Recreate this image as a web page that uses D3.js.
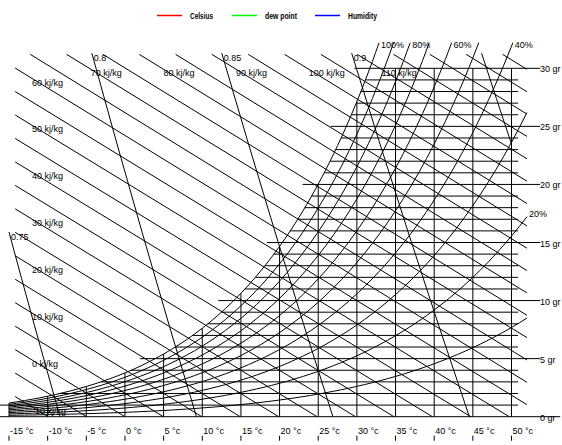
<!DOCTYPE html>
<html><head><meta charset="utf-8">
<script src="https://cdn.jsdelivr.net/npm/d3@7"></script>
<style>
body{margin:0;background:#fff}
svg{display:block}
text{font-family:"Liberation Sans",Arial,sans-serif;font-size:9px;fill:#000}
.leg{font-weight:bold;font-size:9px}
</style>
</head><body><svg id="c" width="562" height="445"></svg>
<script>
// ---------------- data ----------------
const temperatures = [-15,-10,-5,0,5,10,15,20,25,30,35,40,45,50];
const temperatureLabels = temperatures.map(t => t + " °c");
const humidityMajor = [0,5,10,15,20,25,30];
const humidityLabels = humidityMajor.map(w => w + " gr");
const humidityGrid = [1,2,3,4,5,6,7,8,9,10,11,12,13,14,15,16,17,18,19,20,21,22,23,24,25,26,27,28,29,30];
// saturation vapour pressure (kPa) read per degree C
const satTemps = [-15,-14,-13,-12,-11,-10,-9,-8,-7,-6,-5,-4,-3,-2,-1,0,1,2,3,4,5,6,7,8,9,10,11,12,13,14,15,16,17,18,19,20,21,22,23,24,25,26,27,28,29,30,31,32,33,34,35,36,37,38,39,40,41,42,43,44,45,46,47,48,49,50,51,52,53];
const satPressure = [0.1917,0.2080,0.2257,0.2446,0.2649,0.2868,0.3102,0.3353,0.3622,0.3910,0.4219,0.4549,0.4902,0.5278,0.5680,0.6109,0.6567,0.7055,0.7574,0.8127,0.8716,0.9342,1.0007,1.0713,1.1464,1.2260,1.3105,1.4001,1.4950,1.5956,1.7020,1.8147,1.9338,2.0598,2.1929,2.3334,2.4819,2.6385,2.8037,2.9780,3.1616,3.3551,3.5589,3.7734,3.9992,4.2366,4.4861,4.7483,5.0239,5.3133,5.6172,5.9363,6.2708,6.6216,6.9892,7.3744,7.7778,8.2004,8.6427,9.1056,9.5898,10.0962,10.6253,11.1786,11.7565,12.3600,12.9899,13.6475,14.3335];
const rhLevels = [100,90,80,70,60,50,40,30,20,10];
const rhLabelled = [100,80,60,40,20];
const enthalpyLevels = [-10,-5,0,5,10,15,20,25,30,35,40,45,50,55,60,65,70,75,80,85,90,95,100,105,110,115,120,125,130];
const enthalpyLabelled = [-10,0,10,20,30,40,50,60,70,80,90,100,110];
const volumeLevels = [0.75,0.8,0.85,0.9,0.95];
const volumeLabelled = [0.75,0.8,0.85,0.9];
const legendNames = ["Celsius","dew point","Humidity"];
const legendColors = ["#ff0000","#00ff00","#0000ff"];
const legendWidths = [23,32,29];

// ---------------- setup ----------------
const P = 101.325;
const svg = d3.select("#c");
const x = d3.scaleLinear().domain([-15, 50]).range([9, 511.5]);
const y = d3.scaleLinear().domain([0, 30]).range([416.7, 68.3]);
const line = d3.line().x(d => x(d[0])).y(d => y(d[1]));
const ratio = pv => 622 * pv / (P - pv);
const satW = satPressure.map(ratio);
function satAt(T){ const i = Math.max(0, Math.min(satTemps.length-2, Math.floor(T - satTemps[0])));
  const f = T - satTemps[i]; return satW[i] + f*(satW[i+1]-satW[i]); }
function tSat(w){ for (let i=0;i<satW.length-1;i++){ if (w <= satW[i+1]) { const f=(w-satW[i])/(satW[i+1]-satW[i]); return satTemps[i]+f; } } return satTemps[satTemps.length-1]; }

const g = svg.append("g").attr("fill","none").attr("stroke","#000").attr("stroke-width",1);

// horizontal humidity lines
g.append("line").attr("x1", x(-16.2)).attr("x2", x(56.3)).attr("y1", y(0)).attr("y2", y(0));
humidityGrid.forEach(w => {
  const major = humidityMajor.includes(w);
  const t1 = tSat(w) - (major ? 2 : 0);
  const t2 = major ? 53.7 : 50.85;
  g.append("line").attr("x1", Math.max(0, x(t1))).attr("x2", x(t2)).attr("y1", y(w)).attr("y2", y(w));
});

// vertical temperature lines
temperatures.forEach(t => {
  g.append("line").attr("x1", x(t)).attr("x2", x(t)).attr("y1", y(0)).attr("y2", y(Math.min(30, satAt(t))));
  g.append("line").attr("x1", x(t)).attr("x2", x(t)).attr("y1", y(0)+19).attr("y2", y(0)+24);
});

// RH curves
const rhTopW = 32.2, rhMaxT = 52;
const rhEnds = {};
rhLevels.forEach(rh => {
  const pts = [];
  let top = false;
  for (let i=0;i<satTemps.length;i++){
    const T = satTemps[i]; if (T > rhMaxT) break;
    const W = ratio(rh/100*satPressure[i]);
    if (W > rhTopW) { const [T0,W0] = pts[pts.length-1]; const f=(rhTopW-W0)/(W-W0); pts.push([T0+f*(T-T0), rhTopW]); top = true; break; }
    pts.push([T,W]);
  }
  rhEnds[rh] = {p: pts[pts.length-1], top};
  g.append("path").attr("d", line.curve(d3.curveMonotoneX)(pts));
});
line.curve(d3.curveLinear);

// enthalpy lines
const hT = (h,W) => (h - 2.501*W)/(1.006 + 0.00186*W);
const hW = (h,T) => (h - 1.006*T)/(2.501 + 0.00186*T);
const enthMinT = -14.2, enthMaxT = 52, enthTopW = 31.2;
const enthLines = {};
enthalpyLevels.forEach(h => {
  const Ws = Math.min(enthTopW, hW(h, enthMinT));
  const We = Math.max(0, hW(h, enthMaxT));
  if (Ws <= We) return;
  const pts = [[hT(h,Ws),Ws],[hT(h,We),We]];
  enthLines[h] = pts;
  g.append("path").attr("d", line(pts));
});

// specific volume lines
const vT = (v,W) => v*P/(0.287042*(1+0.0016078*W)) - 273.15;
const vW = (v,T) => (v*P/(0.287042*(T+273.15)) - 1)/0.0016078;
const volTopW = 31.3;
const volEnds = {};
volumeLevels.forEach(v => {
  const Ws = Math.min(volTopW, vW(v, -15));
  const We = Math.max(0, vW(v, 50));
  const pts = d3.range(5).map(k => { const W = We + (Ws-We)*k/4; return [vT(v,W), W]; });
  volEnds[v] = pts[pts.length-1];
  g.append("path").attr("d", line(pts));
});

// ---------------- labels ----------------
const t = svg.append("g");
temperatures.forEach((tt,i) => {
  t.append("text").attr("x", x(tt)+1).attr("y", y(0)+17).text(temperatureLabels[i]);
});
humidityMajor.forEach((w,i) => {
  t.append("text").attr("x", x(53.7)).attr("y", y(w)+4).text(humidityLabels[i]);
});
rhLabelled.forEach(rh => {
  const e = rhEnds[rh];
  t.append("text").attr("x", x(e.p[0])+2).attr("y", y(e.p[1]) + (e.top ? 5.5 : 0.5)).text(rh + "%");
});
volumeLabelled.forEach(v => {
  const e = volEnds[v];
  t.append("text").attr("x", x(e[0])+2).attr("y", y(e[1])+8).text(String(v));
});
enthalpyLabelled.forEach(h => {
  const pts = enthLines[h];
  const [a,b] = pts.map(p => [x(p[0]), y(p[1])]);
  let lx, ly;
  if (h <= 60) { const px = 38; ly = a[1] + (b[1]-a[1])*(px-a[0])/(b[0]-a[0]); lx = 32; }
  else { ly = y(29.6); const px = a[0] + (b[0]-a[0])*(ly-a[1])/(b[1]-a[1]); lx = px - 6; }
  t.append("text").attr("x", lx).attr("y", ly+3.5).text(h + " kj/kg");
});

// legend
const legX = [157, 232, 315];
legendNames.forEach((n,i) => {
  svg.append("line").attr("x1", legX[i]).attr("x2", legX[i]+25).attr("y1", 15.5).attr("y2", 15.5)
    .attr("stroke", legendColors[i]).attr("stroke-width", 1.5);
  svg.append("text").attr("class","leg").attr("x", legX[i]+33).attr("y", 19)
    .attr("textLength", legendWidths[i]).attr("lengthAdjust","spacingAndGlyphs").text(n);
});
</script>
</body></html>
